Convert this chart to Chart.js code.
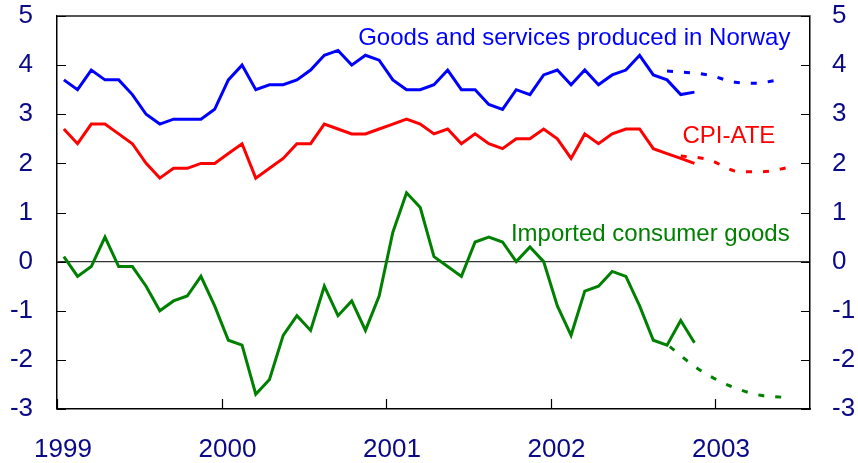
<!DOCTYPE html>
<html>
<head>
<meta charset="utf-8">
<script src="https://cdn.jsdelivr.net/npm/chart.js@4.4.0/dist/chart.umd.min.js"></script>
<style>
  html, body { margin: 0; padding: 0; background: #fff; }
  #wrap { width: 858px; height: 463px; }
</style>
</head>
<body>
<div id="wrap"><canvas id="chart" width="858" height="463"></canvas></div>
<script>
// monthly observations, Jan 1999 - Nov 2002 (plotted mid-month)
const firstYear = 1999;
const yearTicks = [0, 12, 24, 36, 48]; // months since Jan 1999

const norwayGoods = [
  3.7, 3.5, 3.9, 3.7, 3.7, 3.4, 3.0, 2.8, 2.9, 2.9, 2.9, 3.1,
  3.7, 4.0, 3.5, 3.6, 3.6, 3.7, 3.9, 4.2, 4.3, 4.0, 4.2, 4.1,
  3.7, 3.5, 3.5, 3.6, 3.9, 3.5, 3.5, 3.2, 3.1, 3.5, 3.4, 3.8,
  3.9, 3.6, 3.9, 3.6, 3.8, 3.9, 4.2, 3.8, 3.7, 3.4, 3.45
];
const cpiAte = [
  2.7, 2.4, 2.8, 2.8, 2.6, 2.4, 2.0, 1.7, 1.9, 1.9, 2.0, 2.0,
  2.2, 2.4, 1.7, 1.9, 2.1, 2.4, 2.4, 2.8, 2.7, 2.6, 2.6, 2.7,
  2.8, 2.9, 2.8, 2.6, 2.7, 2.4, 2.6, 2.4, 2.3, 2.5, 2.5, 2.7,
  2.5, 2.1, 2.6, 2.4, 2.6, 2.7, 2.7, 2.3, 2.2, 2.1, 2.0
];
const importedGoods = [
  0.1, -0.3, -0.1, 0.5, -0.1, -0.1, -0.5, -1.0, -0.8, -0.7, -0.3, -0.9,
  -1.6, -1.7, -2.7, -2.4, -1.5, -1.1, -1.4, -0.5, -1.1, -0.8, -1.4, -0.7,
  0.6, 1.4, 1.1, 0.1, -0.1, -0.3, 0.4, 0.5, 0.4, 0.0, 0.3, 0.0,
  -0.9, -1.5, -0.6, -0.5, -0.2, -0.3, -0.9, -1.6, -1.7, -1.2, -1.65
];

// projections (dotted)
const norwayProjMonths = [44.5, 47.5, 49.5, 51, 52.6];
const norwayProj = [3.88, 3.8, 3.65, 3.63, 3.7];
const cpiProjMonths = [45.5, 47.5, 49.8, 51.5, 53.4];
const cpiProj = [2.15, 2.08, 1.83, 1.83, 1.92];
const importedProjMonths = [44.7, 46.7, 49.0, 51.3, 52.9];
const importedProj = [-1.73, -2.17, -2.52, -2.72, -2.76];

const seriesNames = ['Goods and services produced in Norway', 'CPI-ATE', 'Imported consumer goods'];
const seriesColors = ['#0000ff', '#ff0000', '#008000'];

const navy = '#0a0a86';
const fontFamily = '"Liberation Sans", Arial, Helvetica, sans-serif';

function monthly(values) {
  return values.map((v, i) => ({ x: i + 0.5, y: v }));
}
function pairs(xs, ys) {
  return xs.map((x, i) => ({ x: x, y: ys[i] }));
}

function solid(label, data, color) {
  return { label, data, borderColor: color, borderWidth: 3, pointRadius: 0, tension: 0, fill: false };
}
function dotted(label, data, color) {
  return { label, data, borderColor: color, borderWidth: 3, borderDash: [6, 11], pointRadius: 0,
           cubicInterpolationMode: 'monotone', fill: false };
}

// label anchors in data units (right edge, baseline)
const labelAnchors = [
  { x: 53.5, y: 4.40 },
  { x: 52.4, y: 2.41 },
  { x: 53.45, y: 0.41 }
];

const framePlugin = {
  id: 'frame',
  afterDatasetsDraw(chart) {
    const { ctx, chartArea: a, scales } = chart;
    ctx.save();
    // top border
    ctx.strokeStyle = '#555';
    ctx.lineWidth = 2;
    ctx.beginPath();
    ctx.moveTo(a.left, a.top);
    ctx.lineTo(a.right, a.top);
    ctx.stroke();
    // inward ticks
    ctx.strokeStyle = '#000';
    ctx.lineWidth = 1.2;
    ctx.beginPath();
    scales.y.ticks.forEach(t => {
      const y = Math.round(scales.y.getPixelForValue(t.value)) + 0.5;
      ctx.moveTo(a.left, y); ctx.lineTo(a.left + 9, y);
      ctx.moveTo(a.right, y); ctx.lineTo(a.right - 9, y);
    });
    yearTicks.forEach(m => {
      const x = Math.round(scales.x.getPixelForValue(m)) + 0.5;
      ctx.moveTo(x, a.bottom); ctx.lineTo(x, a.bottom - 10);
    });
    ctx.stroke();

    // series labels
    ctx.font = '24px ' + fontFamily;
    ctx.textAlign = 'right';
    ctx.textBaseline = 'alphabetic';
    seriesNames.forEach((name, i) => {
      ctx.fillStyle = seriesColors[i];
      ctx.fillText(name, scales.x.getPixelForValue(labelAnchors[i].x), scales.y.getPixelForValue(labelAnchors[i].y));
    });
    ctx.restore();
  }
};

const yTicks = {
  color: navy,
  font: { family: fontFamily, size: 26 },
  stepSize: 1,
  crossAlign: 'near'
};

function fixY(width) {
  return s => { s.width = width; s.paddingTop = 0; s.paddingBottom = 0; };
}

new Chart(document.getElementById('chart'), {
  type: 'line',
  data: {
    datasets: [
      solid(seriesNames[0], monthly(norwayGoods), seriesColors[0]),
      solid(seriesNames[1], monthly(cpiAte), seriesColors[1]),
      solid(seriesNames[2], monthly(importedGoods), seriesColors[2]),
      dotted(seriesNames[0] + ' (proj.)', pairs(norwayProjMonths, norwayProj), seriesColors[0]),
      dotted(seriesNames[1] + ' (proj.)', pairs(cpiProjMonths, cpiProj), seriesColors[1]),
      dotted(seriesNames[2] + ' (proj.)', pairs(importedProjMonths, importedProj), seriesColors[2])
    ]
  },
  options: {
    responsive: false,
    animation: false,
    layout: { padding: { top: 16, left: 0, right: 0, bottom: 0 } },
    plugins: { legend: { display: false }, tooltip: { enabled: false } },
    scales: {
      x: {
        type: 'linear',
        min: 0,
        max: 54.93,
        afterBuildTicks: s => { s.ticks = yearTicks.map(v => ({ value: v })); },
        afterFit: s => { s.height = 54; s.paddingLeft = 0; s.paddingRight = 0; },
        grid: { display: false, drawTicks: false },
        border: { display: true, color: '#000', width: 1.5 },
        ticks: {
          color: navy,
          font: { family: fontFamily, size: 26 },
          padding: 25,
          labelOffset: 6,
          maxRotation: 0,
          autoSkip: false,
          callback: v => String(firstYear + v / 12)
        }
      },
      y: {
        position: 'left',
        min: -3,
        max: 5,
        afterFit: fixY(57),
        grid: {
          drawTicks: false,
          color: c => (c.tick && c.tick.value === 0 ? '#333' : 'rgba(0,0,0,0)'),
          lineWidth: 1.2
        },
        border: { display: true, color: '#000', width: 1.5 },
        ticks: Object.assign({ padding: 24 }, yTicks)
      },
      y2: {
        position: 'right',
        min: -3,
        max: 5,
        afterFit: fixY(48),
        grid: { display: false, drawTicks: false },
        border: { display: true, color: '#000', width: 1.5 },
        ticks: Object.assign({ padding: 22 }, yTicks)
      }
    }
  },
  plugins: [framePlugin]
});
</script>
</body>
</html>
